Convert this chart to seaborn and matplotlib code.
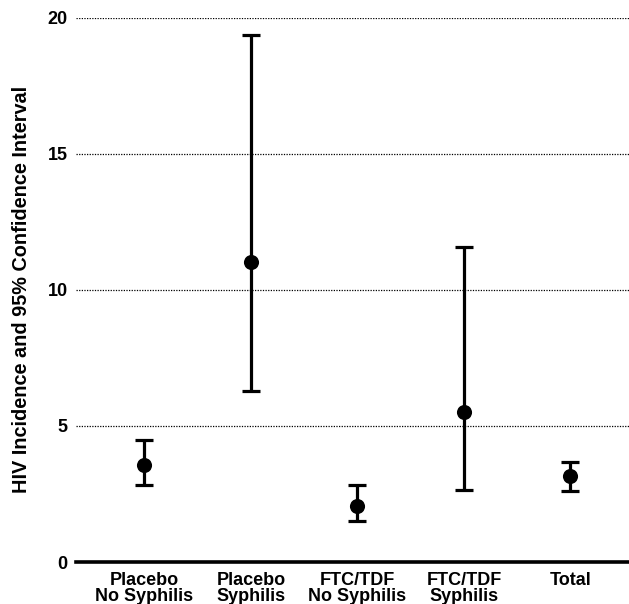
import matplotlib
matplotlib.use("Agg")
import matplotlib.pyplot as plt
import seaborn as sns
import pandas as pd
import numpy as np

categories = ["Placebo\nNo Syphilis", "Placebo\nSyphilis", "FTC/TDF\nNo Syphilis",
              "FTC/TDF\nSyphilis", "Total"]
incidence = [3.58, 11.03, 2.05, 5.51, 3.15]
ci_low = [2.82, 6.29, 1.52, 2.66, 2.61]
ci_high = [4.50, 19.36, 2.82, 11.56, 3.68]
y_ticks = [0, 5, 10, 15, 20]

sns.set_theme(style="white")
plt.rcParams['font.family'] = ['Liberation Sans', 'DejaVu Sans']
plt.rcParams['font.weight'] = 'bold'
for k in ["text.color", "axes.labelcolor", "xtick.color", "ytick.color"]:
    plt.rcParams[k] = "black"

rows = []
for c, lo, est, hi in zip(categories, ci_low, incidence, ci_high):
    for v in (lo, est, hi):
        rows.append({"group": c, "value": v})
df = pd.DataFrame(rows)

fig = plt.figure(figsize=(6.29, 6.04), dpi=100)
ax = fig.add_axes([0.121, 0.0695, 0.879, 0.9015])

for y in y_ticks[1:]:
    ax.axhline(y, color="black", linestyle=(0, (1, 1.1)), linewidth=0.9, zorder=0)

sns.pointplot(data=df, x="group", y="value", order=categories,
              estimator="median", errorbar=lambda v: (v.min(), v.max()),
              linestyle="none", color="black", capsize=0.17,
              marker="o", markersize=13.5, markeredgecolor="white",
              markeredgewidth=2.6,
              err_kws={"linewidth": 2.3, "color": "black"}, ax=ax)

for ln in ax.lines:
    ln.set_solid_capstyle("butt")

ax.set_ylim(0, 20)
ax.set_xlim(-0.64, 4.55)
ax.set_yticks(y_ticks)
ax.set_yticklabels([str(t) for t in y_ticks], fontsize=13, fontweight="bold")
ax.set_xticks(range(len(categories)))
ax.set_xticklabels(categories, fontsize=13, fontweight="bold", linespacing=0.95)
ax.tick_params(axis="y", length=0, pad=6)
ax.tick_params(axis="x", length=0, pad=7)
ax.set_xlabel("")
ax.set_ylabel("HIV Incidence and 95% Confidence Interval", fontsize=14.3,
              fontweight="bold", labelpad=12)

for s in ["top", "right", "left"]:
    ax.spines[s].set_visible(False)
ax.spines["bottom"].set_linewidth(2.6)
ax.spines["bottom"].set_color("black")
ax.spines["bottom"].set_zorder(5)

fig.savefig("out.png", dpi=100)
